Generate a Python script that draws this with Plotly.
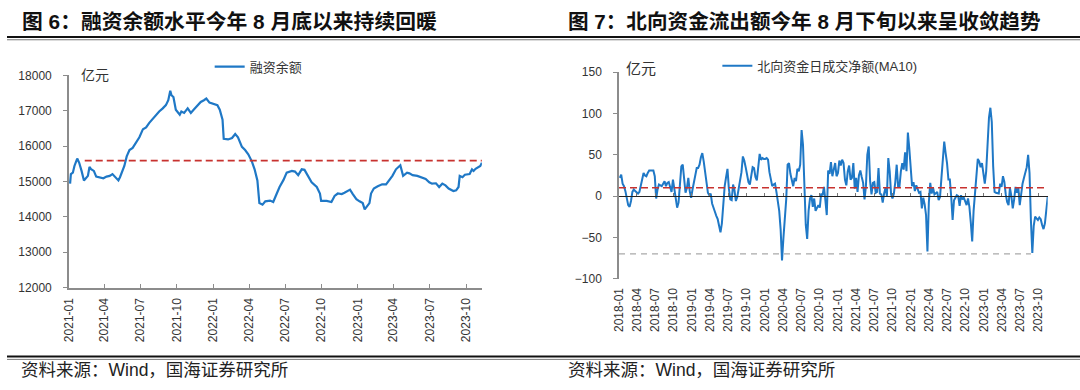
import plotly.graph_objects as go
import pandas as pd

W, H = 1080, 390

# ---------------- Left chart: 融资余额 (亿元) ----------------
margin_dates = [
    "2021-01-04", "2021-01-06", "2021-01-11", "2021-01-15", "2021-01-22", "2021-01-27",
    "2021-02-02", "2021-02-08", "2021-02-18", "2021-02-22", "2021-02-26", "2021-03-05",
    "2021-03-11", "2021-03-19", "2021-03-29", "2021-04-06", "2021-04-14", "2021-04-21",
    "2021-04-26", "2021-05-06", "2021-05-10", "2021-05-13", "2021-05-21", "2021-05-27",
    "2021-06-03", "2021-06-11", "2021-06-21", "2021-06-28", "2021-07-07", "2021-07-15",
    "2021-07-23", "2021-08-02", "2021-08-09", "2021-08-17", "2021-08-26", "2021-09-03",
    "2021-09-09", "2021-09-14", "2021-09-17", "2021-09-22", "2021-09-28", "2021-10-08",
    "2021-10-12", "2021-10-19", "2021-10-28", "2021-11-05", "2021-11-12", "2021-11-22",
    "2021-11-30", "2021-12-08", "2021-12-14", "2021-12-22", "2022-01-04", "2022-01-11",
    "2022-01-17", "2022-01-24", "2022-01-27", "2022-02-07", "2022-02-17", "2022-02-25",
    "2022-03-04", "2022-03-14", "2022-03-22", "2022-03-30", "2022-04-08", "2022-04-15",
    "2022-04-22", "2022-04-27", "2022-05-05", "2022-05-12", "2022-05-24", "2022-06-01",
    "2022-06-10", "2022-06-17", "2022-06-27", "2022-07-05", "2022-07-18", "2022-07-26",
    "2022-08-03", "2022-08-12", "2022-08-19", "2022-08-29", "2022-09-06", "2022-09-19",
    "2022-09-27", "2022-09-30", "2022-10-14", "2022-10-26", "2022-11-03", "2022-11-11",
    "2022-11-21", "2022-11-28", "2022-12-12", "2022-12-19", "2022-12-28", "2023-01-05",
    "2023-01-13", "2023-01-18", "2023-01-30", "2023-02-03", "2023-02-10", "2023-02-20",
    "2023-03-03", "2023-03-13", "2023-03-21", "2023-03-29", "2023-04-07", "2023-04-18",
    "2023-04-25", "2023-05-05", "2023-05-11", "2023-05-19", "2023-05-31", "2023-06-12",
    "2023-06-21", "2023-06-30", "2023-07-07", "2023-07-17", "2023-07-25", "2023-08-02",
    "2023-08-10", "2023-08-18", "2023-08-25", "2023-08-30", "2023-09-06", "2023-09-12",
    "2023-09-15", "2023-09-22", "2023-09-28", "2023-10-10", "2023-10-16", "2023-10-20",
    "2023-10-25", "2023-11-01", "2023-11-06", "2023-11-10",
]
margin_values = [
    14940, 15210, 15250, 15440, 15650, 15530,
    15300, 15030, 15160, 15410, 15350, 15300,
    15140, 15120, 15090, 15140, 15160, 15210,
    15140, 15030, 15120, 15210, 15440, 15710,
    15890, 15950, 16120, 16250, 16480, 16530,
    16660, 16800, 16890, 16980, 17070, 17160,
    17300, 17570, 17440, 17390, 17030, 16890,
    16980, 16940, 17070, 16940, 17030, 17160,
    17250, 17300, 17345, 17230, 17190, 17160,
    17030, 16750, 16210, 16190, 16230, 16345,
    16250, 15980, 15890, 15770, 15570, 15345,
    15030, 14390, 14345, 14440, 14460, 14420,
    14660, 14845, 15045, 15250, 15300, 15280,
    15180, 15345, 15330, 15140, 14980, 14845,
    14660, 14450, 14450, 14420, 14590, 14660,
    14645, 14680, 14770, 14645, 14500, 14440,
    14390, 14210, 14390, 14660, 14800, 14865,
    14920, 14920, 15030, 15160, 15345, 15460,
    15160, 15250, 15230, 15180, 15160, 15120,
    15070, 14980, 14940, 14950, 14845, 14940,
    14890, 14800, 14750, 14730, 14750, 14845,
    15160, 15120, 15190, 15210, 15345, 15300,
    15360, 15400, 15440, 15530,
]
margin_ref_level = 15590
margin_ref_span = ["2021-02-10", "2023-11-10"]
left_x_range = ["2021-01-01", "2023-11-10"]
left_y_range = [12000, 18000]

# ---------------- Right chart: 北向资金日成交净额(MA10) (亿元), weekly readings ----------------
north_start = "2018-01-05"
north_values = [
    22, 26, 15, 12, 6, -2, -11, -13, -6, 5, 8, 6, 5, 3, 5, 13, 23, 28, 25, 24,
    28, 31, 31, 31, 31, 24, -3, 8, 14, 13, 12, 15, 18, 12, 16, 17, 9, 5, 20, 9,
    -6, -14, -8, 12, 36, 38, 20, 4, 10, 22, 6, -2, 8, 17, 27, 34, 34, 38, 47, 52,
    42, 31, 16, 4, 1, 3, -9, -13, -19, -24, -28, -36, -44, -33, -10, 12, 23, 33, 9, -4,
    -5, 14, 7, -6, -1, 10, 20, 29, 48, 43, 35, 24, 17, 14, 26, 35, 34, 23, 19, 32,
    51, 44, 46, 45, 45, 46, 44, 29, 18, 12, 14, 15, 5, -5, -18, -40, -78, -51, -29, -4,
    38, 40, 27, 18, 12, 22, 18, 33, 30, 38, 80, 62, 10, -35, -52, -18, -3, 1, -13, -3,
    -18, -14, -11, -14, 3, 1, 11, -5, -23, 31, 27, 41, 24, 32, 40, 24, 28, 43, 37, 44,
    40, 20, 13, 30, 37, 20, 22, 40, 9, 22, 5, 25, 31, 23, 16, -4, 12, 50, 60, 18,
    2, 16, 17, 4, 5, 34, 3, 2, -8, 3, 10, 0, 46, 30, 2, -3, 3, 17, 38, 12,
    12, 30, 40, 32, 53, 30, 77, 58, 35, 12, 17, 6, 13, 8, 4, 5, -15, -2, -10, -23,
    -67, -8, 16, 3, 10, 2, 3, 5, -5, -1, 22, 40, 66, 52, 40, 20, 20, -1, -29, -5,
    -1, 1, 0, -12, 1, -4, -2, -8, -11, -3, -13, -32, -55, -18, 4, 30, 45, 42, 35, 40,
    28, 15, 30, 58, 95, 107, 90, 36, 5, 4, 3, 3, 15, 11, 24, 17, 2, -7, -11, 10,
    0, -15, -4, 11, 4, 10, -11, 5, 15, 22, 28, 35, 50, 28, -30, -69, -36, -25, -27, -29,
    -26, -28, -35, -40, -33, -18, -1,
]
north_dates = pd.date_range(north_start, periods=len(north_values), freq="7D")
north_red_level = 10
north_red_span = ["2018-01-01", "2023-11-10"]
north_gray_level = -70
north_gray_span = ["2018-01-01", "2023-08-25"]
right_x_range = ["2018-01-01", "2023-11-17"]
right_y_range = [-100, 150]

# ---------------- styling ----------------
BLUE = "#1f78c6"
RED = "#c8322f"
GRAY_DASH = "#a9a9a9"
AXIS = "#8c8c8c"
TXT = "#333333"
NUM_FONT = "Arial, Liberation Sans, sans-serif"
CJK_FONT = "Liberation Sans, Noto Sans CJK SC, sans-serif"

fig = go.Figure()

fig.add_trace(go.Scatter(
    x=margin_dates, y=margin_values, mode="lines", name="融资余额",
    line=dict(color=BLUE, width=2.2), xaxis="x", yaxis="y", legend="legend",
))
fig.add_trace(go.Scatter(
    x=margin_ref_span, y=[margin_ref_level] * 2, mode="lines", showlegend=False,
    line=dict(color=RED, width=1.6, dash="7px,4px"), xaxis="x", yaxis="y",
))

fig.add_trace(go.Scatter(
    x=north_red_span, y=[north_red_level] * 2, mode="lines", showlegend=False,
    line=dict(color=RED, width=1.6, dash="7px,4px"), xaxis="x3", yaxis="y2",
))
fig.add_trace(go.Scatter(
    x=north_gray_span, y=[north_gray_level] * 2, mode="lines", showlegend=False,
    line=dict(color=GRAY_DASH, width=1.2, dash="6px,5px"), xaxis="x2", yaxis="y2",
))
fig.add_trace(go.Scatter(
    x=north_dates, y=north_values, mode="lines", name="北向资金日成交净额(MA10)",
    line=dict(color=BLUE, width=2.0), xaxis="x2", yaxis="y2", legend="legend2",
))

def px_x(p):
    return p / W

def px_y(p):
    return 1 - p / H

left_dom_y = [px_y(291), px_y(71)]
right_dom_y = [px_y(281.7), px_y(67.7)]
zero_pos = right_dom_y[0] + (0 - right_y_range[0]) / (right_y_range[1] - right_y_range[0]) * (right_dom_y[1] - right_dom_y[0])

tickfont = dict(family=NUM_FONT, size=12, color=TXT)

fig.update_layout(
    width=W, height=H,
    margin=dict(l=0, r=0, t=0, b=0),
    paper_bgcolor="white", plot_bgcolor="white",
    xaxis=dict(
        domain=[px_x(62.3), px_x(478)], anchor="y", type="date", range=left_x_range,
        showline=True, linecolor=AXIS, linewidth=1.5, ticks="inside", ticklen=4,
        tickcolor=AXIS, tickwidth=1.2, dtick="M3", tick0="2021-01-01", tickformat="%Y-%m",
        tickangle=-90, tickfont=tickfont, showgrid=False, zeroline=False,
        ticklabelstandoff=4,
    ),
    yaxis=dict(
        domain=left_dom_y, anchor="x", range=left_y_range, dtick=1000, tickformat="d",
        showline=True, linecolor=AXIS, linewidth=1.5, ticks="outside", ticklen=4,
        tickcolor=AXIS, tickfont=tickfont, showgrid=False, zeroline=False,
        ticklabelstandoff=9,
    ),
    xaxis2=dict(
        domain=[px_x(616), px_x(1047.5)], anchor="y2", type="date", range=right_x_range,
        showline=False, ticks="", dtick="M3", tick0="2018-01-01", tickformat="%Y-%m",
        tickangle=-90, tickfont=tickfont, showgrid=False, zeroline=False,
        ticklabelstandoff=6,
    ),
    xaxis3=dict(
        overlaying="x2", matches="x2", anchor="free", position=zero_pos, type="date",
        showline=True, linecolor="#222222", linewidth=1, ticks="inside", ticklen=3,
        tickcolor="#777777", dtick="M3", tick0="2018-01-01", showticklabels=False,
        showgrid=False, zeroline=False,
    ),
    yaxis2=dict(
        domain=right_dom_y, anchor="x2", range=right_y_range, dtick=50,
        showline=True, linecolor=AXIS, linewidth=1.5, ticks="outside", ticklen=4,
        tickcolor=AXIS, tickfont=tickfont, showgrid=False, zeroline=False,
        ticklabelstandoff=9,
    ),
    legend=dict(
        x=px_x(204), y=px_y(62), xanchor="left", yanchor="middle",
        font=dict(family=CJK_FONT, size=13, color=TXT), bgcolor="rgba(0,0,0,0)",
        itemwidth=30,
    ),
    legend2=dict(
        x=px_x(715), y=px_y(61), xanchor="left", yanchor="middle",
        font=dict(family=CJK_FONT, size=13, color=TXT), bgcolor="rgba(0,0,0,0)",
        itemwidth=30,
    ),
    showlegend=True,
)

annos = [
    dict(text="<b>图 6：融资余额水平今年 8 月底以来持续回暖</b>", x=px_x(13), y=px_y(15),
         xanchor="left", yanchor="middle", font=dict(family=CJK_FONT, size=20.8, color="#111111")),
    dict(text="<b>图 7：北向资金流出额今年 8 月下旬以来呈收敛趋势</b>", x=px_x(563), y=px_y(15),
         xanchor="left", yanchor="middle", font=dict(family=CJK_FONT, size=20.6, color="#111111")),
    dict(text="资料来源：Wind，国海证券研究所", x=px_x(12), y=px_y(377),
         xanchor="left", yanchor="middle", font=dict(family=CJK_FONT, size=17.5, color="#222222")),
    dict(text="资料来源：Wind，国海证券研究所", x=px_x(563), y=px_y(377),
         xanchor="left", yanchor="middle", font=dict(family=CJK_FONT, size=17.5, color="#222222")),
    dict(text="亿元", x=px_x(72), y=px_y(71), xanchor="left", yanchor="middle",
         font=dict(family=CJK_FONT, size=14, color=TXT)),
    dict(text="亿元", x=px_x(621), y=px_y(64), xanchor="left", yanchor="middle",
         font=dict(family=CJK_FONT, size=15, color=TXT)),
]
for a in annos:
    a.update(xref="paper", yref="paper", showarrow=False)
fig.update_layout(annotations=annos)

shapes = []
for y_thick, y_thin in [(31, 34), (362.5, 365.5)]:
    shapes.append(dict(type="line", xref="paper", yref="paper", x0=0, x1=1,
                       y0=px_y(y_thick), y1=px_y(y_thick), line=dict(color="#111111", width=2)))
    shapes.append(dict(type="line", xref="paper", yref="paper", x0=0, x1=1,
                       y0=px_y(y_thin), y1=px_y(y_thin), line=dict(color="#555555", width=0.8)))
fig.update_layout(shapes=shapes)

fig.write_html(
    "out.html",
    config={"displayModeBar": False},
    post_script="document.body.style.margin='0px';document.body.style.overflow='hidden';",
)
